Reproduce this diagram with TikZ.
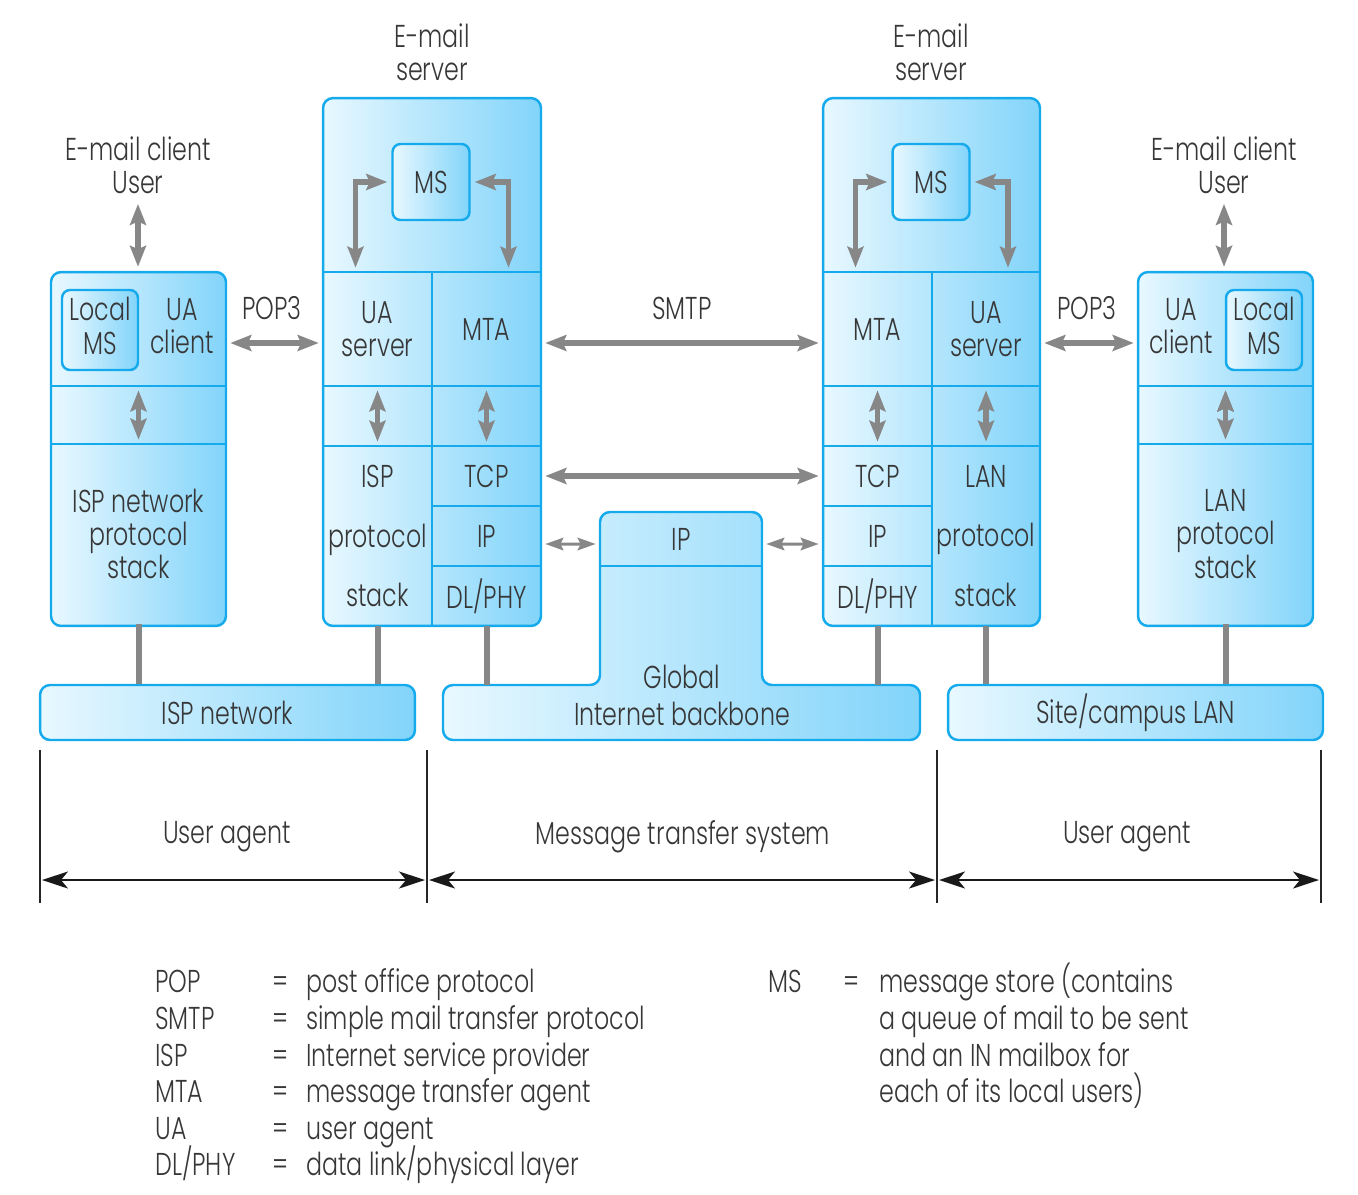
\documentclass[tikz,border=0pt]{standalone}
\usepackage{fontspec}
\IfFontExistsTF{Poppins Light}
    {\setmainfont{Poppins Light}[FakeStretch=0.75]}
    {\setmainfont{Poppins}[FakeStretch=0.75]}
\usetikzlibrary{arrows.meta}

\definecolor{boxline}{RGB}{20,170,235}
\definecolor{boxlight}{RGB}{232,248,255}
\definecolor{boxdark}{RGB}{130,212,250}
\definecolor{arrgray}{RGB}{135,135,135}
\definecolor{textc}{RGB}{55,55,55}

\newcommand{\labfont}{\fontsize{18}{19}\selectfont}
\newcommand{\stackfont}{\fontsize{18}{34}\selectfont}
\newcommand{\legfont}{\fontsize{18}{20.8}\selectfont}

\begin{document}
\begin{tikzpicture}[x=0.02cm, y=-0.02cm,
    box/.style={draw=boxline, line width=1.4pt, rounded corners=0.2cm,
        left color=boxlight, right color=boxdark, inner sep=0pt},
    msbox/.style={box, rounded corners=0.16cm, align=center, font=\labfont, text=textc},
    cell/.style={inner sep=0pt, align=center, font=\labfont, text=textc},
    txt/.style={align=center, font=\labfont, text=textc},
    sep/.style={draw=boxline, line width=1.1pt},
    garrow/.style={draw=arrgray, line width=0.11cm,
        {Stealth[length=0.42cm,width=0.32cm,inset=0.07cm]}-{Stealth[length=0.42cm,width=0.32cm,inset=0.07cm]},
        shorten <=0.08cm, shorten >=0.08cm},
    sarrow/.style={garrow, line width=0.06cm,
        {Stealth[length=0.36cm,width=0.25cm,inset=0.06cm]}-{Stealth[length=0.36cm,width=0.25cm,inset=0.06cm]}},
    link/.style={draw=arrgray, line width=0.12cm},
    dim/.style={draw=black!90, line width=1.2pt, shorten <=0.04cm, shorten >=0.04cm,
        {Stealth[length=0.52cm,width=0.34cm,inset=0.14cm]}-{Stealth[length=0.52cm,width=0.34cm,inset=0.14cm]}},
    tick/.style={draw=black!85, line width=0.6pt}]

    \useasboundingbox (0,0) rectangle (1358,1194);

    % left client
    \node[box, minimum width=3.5cm, minimum height=7.08cm] (lc) at (138.5,449) {};
    \node[cell, minimum width=3.5cm, minimum height=2.28cm] (lctop) at (138.5,329) {};
    \node[cell, minimum width=3.5cm, minimum height=3.6cm] (lcbot) at (138.5,534) {ISP network\\protocol\\stack};
    \node[msbox, minimum width=1.52cm, minimum height=1.6cm] (lms) at (100,330) {};
    \node[txt] (lmst) at (100,326) {Local\\MS};
    \node[txt] (lua) at (182,326) {UA\\client};
    \draw[sep] (lc.west |- lctop.south) -- (lc.east |- lctop.south);
    \draw[sep] (lc.west |- lcbot.north) -- (lc.east |- lcbot.north);
    \node[txt] (lusr) at (138,165) {E-mail client\\User};

    % left server
    \node[box, minimum width=4.36cm, minimum height=10.56cm] (ls) at (432,362) {};
    \node[txt] (lsrv) at (432,52) {E-mail\\server};
    \node[msbox, minimum width=1.54cm, minimum height=1.52cm] (ms1) at (431,182) {MS};
    \node[cell, minimum width=2.18cm, minimum height=2.28cm] (lsuas) at (377.5,329) {UA\\server};
    \node[cell, minimum width=2.18cm, minimum height=2.28cm] (lsmta) at (486.5,329) {MTA};
    \node[cell, minimum width=2.18cm, minimum height=3.6cm, font=\stackfont] (lsisp) at (377.5,536) {ISP\\protocol\\stack};
    \node[cell, minimum width=2.18cm, minimum height=1.2cm] (lstcp) at (486.5,476) {TCP};
    \node[cell, minimum width=2.18cm, minimum height=1.2cm] (lsip) at (486.5,536) {IP};
    \node[cell, minimum width=2.18cm, minimum height=1.2cm] (lsdl) at (486.5,596) {DL/PHY};
    \draw[sep] (ls.west |- lsuas.north) -- (ls.east |- lsuas.north);
    \draw[sep] (ls.west |- lsuas.south) -- (ls.east |- lsuas.south);
    \draw[sep] (ls.west |- lsisp.north) -- (ls.east |- lsisp.north);
    \draw[sep] (lsuas.north east) -- (lsisp.south east);
    \draw[sep] (lstcp.south west) -- (lstcp.south east);
    \draw[sep] (lsip.south west) -- (lsip.south east);

    % right server
    \node[box, minimum width=4.34cm, minimum height=10.56cm] (rs) at (931.5,362) {};
    \node[txt] (rsrv) at (931,52) {E-mail\\server};
    \node[msbox, minimum width=1.54cm, minimum height=1.52cm] (ms2) at (931,182) {MS};
    \node[cell, minimum width=2.18cm, minimum height=2.28cm] (rsmta) at (877.5,329) {MTA};
    \node[cell, minimum width=2.16cm, minimum height=2.28cm] (rsuas) at (986,329) {UA\\server};
    \node[cell, minimum width=2.18cm, minimum height=1.2cm] (rstcp) at (877.5,476) {TCP};
    \node[cell, minimum width=2.18cm, minimum height=1.2cm] (rsip) at (877.5,536) {IP};
    \node[cell, minimum width=2.18cm, minimum height=1.2cm] (rsdl) at (877.5,596) {DL/PHY};
    \node[cell, minimum width=2.16cm, minimum height=3.6cm, font=\stackfont] (rslan) at (986,536) {LAN\\protocol\\stack};
    \draw[sep] (rs.west |- rsmta.north) -- (rs.east |- rsmta.north);
    \draw[sep] (rs.west |- rsmta.south) -- (rs.east |- rsmta.south);
    \draw[sep] (rs.west |- rslan.north) -- (rs.east |- rslan.north);
    \draw[sep] (rsmta.north east) -- (rsdl.south east);
    \draw[sep] (rstcp.south west) -- (rstcp.south east);
    \draw[sep] (rsip.south west) -- (rsip.south east);

    % right client
    \node[box, minimum width=3.5cm, minimum height=7.08cm] (rc) at (1225.5,449) {};
    \node[cell, minimum width=3.5cm, minimum height=2.28cm] (rctop) at (1225.5,329) {};
    \node[cell, minimum width=3.5cm, minimum height=3.6cm] (rcbot) at (1225.5,534) {LAN\\protocol\\stack};
    \node[msbox, minimum width=1.52cm, minimum height=1.6cm] (rms) at (1264,330) {};
    \node[txt] (rmst) at (1264,326) {Local\\MS};
    \node[txt] (rua) at (1181,326) {UA\\client};
    \draw[sep] (rc.west |- rctop.south) -- (rc.east |- rctop.south);
    \draw[sep] (rc.west |- rcbot.north) -- (rc.east |- rcbot.north);
    \node[txt] (rusr) at (1224,165) {E-mail client\\User};

    % networks
    \node[box, txt, minimum width=7.5cm, minimum height=1.1cm] (ispnet) at (227.5,712.5) {ISP network};
    \draw[box] (443,685) -- (600,685) -- (600,512) -- (762,512) -- (762,685)
        -- (920,685) -- (920,740) -- (443,740) -- cycle;
    \draw[sep] (600,566) -- (762,566);
    \node[inner sep=0pt, minimum width=9.54cm, minimum height=1.1cm] (bb) at (681.5,712.5) {};
    \node[cell, minimum width=3.24cm, minimum height=1.08cm] (bbip) at (681,539) {IP};
    \node[txt, font=\fontsize{18}{21}\selectfont] (bbtxt) at (682,695) {Global\\Internet backbone};
    \node[box, txt, minimum width=7.5cm, minimum height=1.1cm] (lan) at (1135.5,712.5) {Site/campus LAN};

    % protocol arrows
    \node[txt] (pop1) at (272,308) {POP3};
    \node[txt] (smtp) at (682,308) {SMTP};
    \node[txt] (pop2) at (1087,308) {POP3};
    \draw[garrow] ([yshift=-0.28cm]lctop.east) -- ([yshift=-0.28cm]lsuas.west);
    \draw[garrow] ([yshift=-0.28cm]lsmta.east) -- ([yshift=-0.28cm]rsmta.west);
    \draw[garrow] ([yshift=-0.28cm]rsuas.east) -- ([yshift=-0.28cm]rctop.west);
    \draw[garrow] (lstcp.east) -- (rstcp.west);
    \draw[sarrow] ([yshift=-0.16cm]lsip.east) -- ([yshift=-0.1cm]bbip.west);
    \draw[sarrow] ([yshift=-0.1cm]bbip.east) -- ([yshift=-0.16cm]rsip.west);

    \draw[garrow] (lusr.south) -- (lusr.south |- lc.north);
    \draw[garrow] (rusr.south) -- (rusr.south |- rc.north);
    \draw[garrow] (ms1.west) -| ([xshift=-0.44cm]lsuas.north);
    \draw[garrow] (ms1.east) -| ([xshift=0.44cm]lsmta.north);
    \draw[garrow] (ms2.west) -| ([xshift=-0.44cm]rsmta.north);
    \draw[garrow] (ms2.east) -| ([xshift=0.44cm]rsuas.north);

    \path[garrow] (lctop.south) edge (lcbot.north)
        (lsuas.south) edge (lsisp.north)
        (lsmta.south) edge (lstcp.north)
        (rsmta.south) edge (rstcp.north)
        (rsuas.south) edge (rslan.north)
        (rctop.south) edge (rcbot.north);

    \path[link] (lcbot.south) edge (lcbot.south |- ispnet.north)
        (lsisp.south) edge (lsisp.south |- ispnet.north)
        (lsdl.south) edge (lsdl.south |- bb.north)
        (rsdl.south) edge (rsdl.south |- bb.north)
        (rslan.south) edge (rslan.south |- lan.north)
        (rcbot.south) edge (rcbot.south |- lan.north);

    % extent of the parts
    \foreach \x in {40,427,937,1321}
        \draw[tick] (\x,750) -- (\x,903);
    \coordinate (d1) at (40,880);
    \coordinate (d2) at (427,880);
    \coordinate (d3) at (937,880);
    \coordinate (d4) at (1321,880);
    \draw[dim] (d1) -- (d2);
    \draw[dim] (d2) -- (d3);
    \draw[dim] (d3) -- (d4);
    \node[txt] (ua1) at (227,837) {User agent};
    \node[txt] (mts) at (683,837) {Message transfer system};
    \node[txt] (ua2) at (1127,837) {User agent};

    % legend
    \node[anchor=north west, inner sep=0pt, font=\legfont, text=textc] (legl) at (155,967) {%
        \begin{tabular}{@{}p{2.34cm}@{}p{0.68cm}@{}l@{}}
        POP & = & post office protocol\\
        SMTP & = & simple mail transfer protocol\\
        ISP & = & Internet service provider\\
        MTA & = & message transfer agent\\
        UA & = & user agent\\
        \smash{DL/PHY} & = & \smash{data link/physical layer}
        \end{tabular}};
    \node[anchor=north west, inner sep=0pt, font=\legfont, text=textc] (legr) at (768,967) {%
        \begin{tabular}{@{}p{1.5cm}@{}p{0.72cm}@{}l@{}}
        MS & = & \smash{message store (contains}\\
         & & a queue of mail to be sent\\
         & & and an IN mailbox for\\
         & & \smash{each of its local users)}
        \end{tabular}};
\end{tikzpicture}
\end{document}
